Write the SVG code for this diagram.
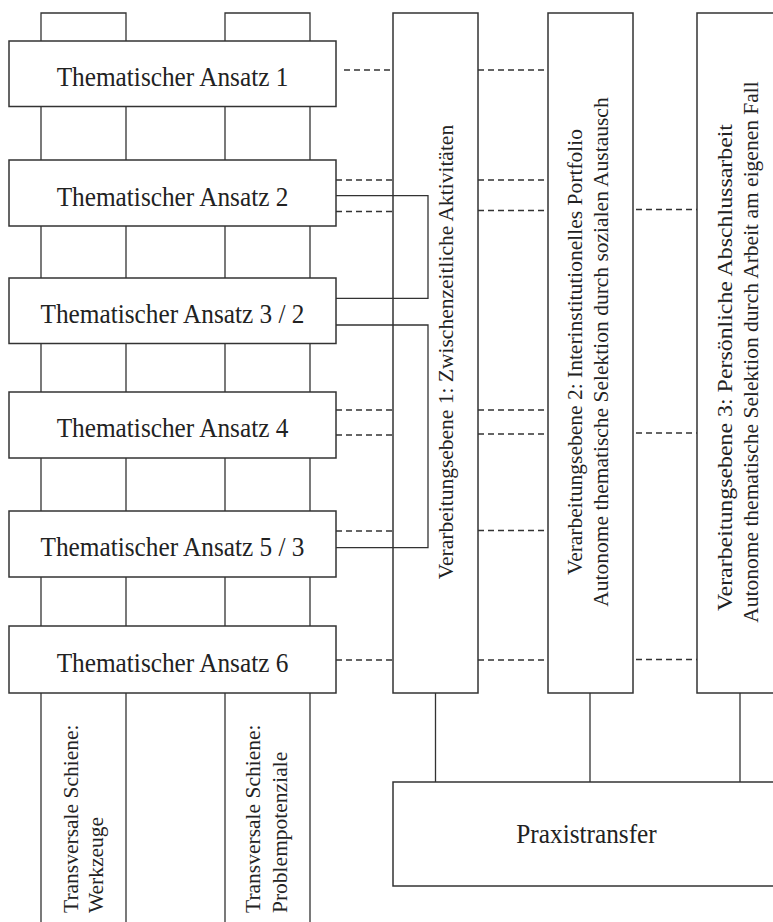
<svg xmlns="http://www.w3.org/2000/svg" width="773" height="922" viewBox="0 0 773 922">
<style>
.box{fill:#fff;stroke:#333;stroke-width:1.5}
.ln{fill:none;stroke:#333;stroke-width:1.3}
.dash{fill:none;stroke:#333;stroke-width:1.3;stroke-dasharray:6 4}
.th{font-family:"Liberation Serif","Times New Roman",serif;font-size:25.3px;fill:#222;text-anchor:middle}
.vt{font-family:"Liberation Serif","Times New Roman",serif;font-size:21.5px;fill:#222}
.mid{text-anchor:middle}
</style>
<rect width="773" height="922" fill="#fff"/>
<g id="rails">
<path class="ln" d="M41,922V13H126V922M225,922V13H310V922"/>
<text class="vt" transform="translate(78,913) rotate(-90)">Transversale Schiene:</text>
<text class="vt" transform="translate(103,913) rotate(-90)">Werkzeuge</text>
<text class="vt" transform="translate(260,913) rotate(-90)">Transversale Schiene:</text>
<text class="vt" transform="translate(287,913) rotate(-90)">Problempotenziale</text>
</g>
<g id="ve1"><rect class="box" x="393" y="13" width="85" height="680"/>
<text class="vt mid" transform="translate(453,352) rotate(-90)">Verarbeitungsebene 1: Zwischenzeitliche Aktivitäten</text></g>
<g id="ve2"><rect class="box" x="548" y="13" width="85" height="680"/>
<text class="vt mid" transform="translate(582,352) rotate(-90)">Verarbeitungsebene 2: Interinstitutionelles Portfolio</text>
<text class="vt mid" transform="translate(608,352) rotate(-90)">Autonome thematische Selektion durch sozialen Austausch</text></g>
<g id="ve3"><rect class="box" x="697" y="13" width="85" height="680"/>
<text class="vt mid" transform="translate(732,367.5) rotate(-90)" textLength="487" lengthAdjust="spacingAndGlyphs">Verarbeitungsebene 3: Persönliche Abschlussarbeit</text>
<text class="vt mid" transform="translate(758,352) rotate(-90)">Autonome thematische Selektion durch Arbeit am eigenen Fall</text></g>
<g id="connectors">
<path class="dash" d="M344,70H393M336,180H393M336,211.5H393M336,410H393M336,435H393M336,531H393M336,660H393"/>
<path class="dash" d="M478,70H548M478,180H548M478,210.5H548M478,410H548M478,434H548M478,530.5H548M478,660H548"/>
<path class="dash" d="M636,209.5H697M636,433H697M636,659.5H697"/>
<path class="ln" d="M336,195.7H428V298.3H336M336,325H428V547.7H336"/>
<path class="ln" d="M435.5,693V782M590,693V782M740,693V782"/>
</g>
<g id="t1"><rect class="box" x="9" y="41" width="327" height="65.5"/><text class="th" transform="translate(172.5,86) scale(1,1.07)">Thematischer Ansatz 1</text></g>
<g id="t2"><rect class="box" x="9" y="160" width="327" height="66"/><text class="th" transform="translate(172.5,205.5) scale(1,1.07)">Thematischer Ansatz 2</text></g>
<g id="t3"><rect class="box" x="9" y="278" width="327" height="65.5"/><text class="th" transform="translate(172.5,322.8) scale(1,1.07)">Thematischer Ansatz 3 / 2</text></g>
<g id="t4"><rect class="box" x="9" y="392" width="327" height="66"/><text class="th" transform="translate(172.5,437.3) scale(1,1.07)">Thematischer Ansatz 4</text></g>
<g id="t5"><rect class="box" x="9" y="511" width="327" height="66"/><text class="th" transform="translate(172.5,556.3) scale(1,1.07)">Thematischer Ansatz 5 / 3</text></g>
<g id="t6"><rect class="box" x="9" y="626" width="327" height="67"/><text class="th" transform="translate(172.5,671.8) scale(1,1.07)">Thematischer Ansatz 6</text></g>
<g id="praxis"><rect class="box" x="393" y="782" width="387" height="104"/><text class="th" transform="translate(586.5,843) scale(1,1.07)">Praxistransfer</text></g>
</svg>
